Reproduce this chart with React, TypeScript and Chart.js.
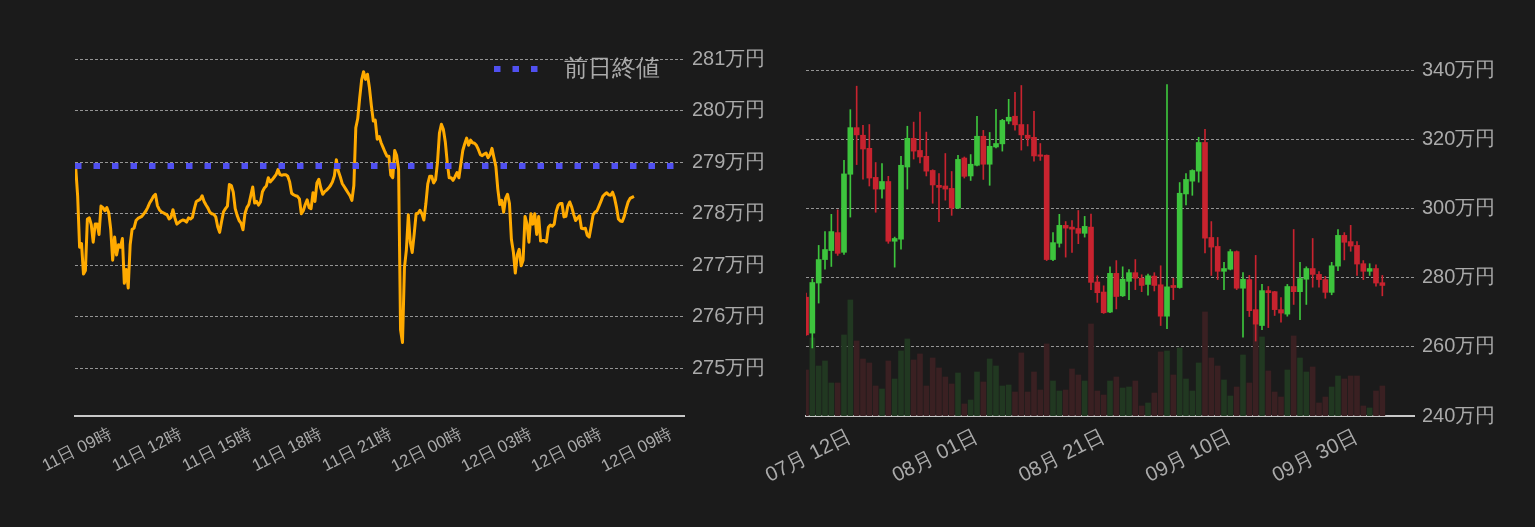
import React, { useEffect, useRef } from 'react';
import { Chart, registerables } from 'chart.js';

Chart.register(...registerables);

// ---------- shared styling ----------
const BG = '#1b1b1b';
const TICK_COLOR = '#aaaaaa';
const GRID_COLOR = 'rgba(190,190,190,0.75)';
const AXIS_COLOR = '#c8c8c8';
const LINE_COLOR = '#ffaa00';
const PREV_COLOR = '#5050f0';
const UP_COLOR = '#3dc43d';
const DOWN_COLOR = '#c8232f';
const UP_VOL = '#213821';
const DOWN_VOL = '#3a2022';

// ---------- left chart: intraday (hours relative to 11日 09:00) ----------
const intradayTickHours = [0, 3, 6, 9, 12, 15, 18, 21, 24];
const intradayTickLabels = ['11日 09時', '11日 12時', '11日 15時', '11日 18時', '11日 21時', '12日 00時', '12日 03時', '12日 06時', '12日 09時'];
const intradayAxisMin = -1.53;
const intradayAxisMax = 24.56;
const intradayStartHour = -1.5; // 11日 07:30
const intradayStepMinutes = 5;
const intradayPrices = [
  278.90, 278.35, 277.35, 277.42, 276.83, 276.90, 277.90, 277.92, 277.79, 277.45,
  277.80, 277.80, 277.60, 278.15, 278.12, 278.06, 278.12, 278.02, 277.70, 277.10,
  277.55, 277.20, 277.40, 277.35, 277.52, 276.65, 276.92, 276.56, 277.40, 277.70,
  277.72, 277.87, 277.91, 277.93, 277.95, 278.00, 278.05, 278.12, 278.21, 278.27,
  278.34, 278.38, 278.16, 278.08, 278.04, 278.02, 278.00, 277.98, 277.90, 277.93,
  278.08, 277.92, 277.80, 277.83, 277.86, 277.88, 277.87, 277.84, 277.92, 277.90,
  277.93, 278.10, 278.24, 278.26, 278.28, 278.35, 278.24, 278.17, 278.11, 278.03,
  278.00, 277.99, 277.94, 277.75, 277.64, 277.85, 278.04, 278.10, 278.15, 278.57,
  278.55, 278.42, 278.10, 277.97, 277.87, 277.82, 277.69, 278.00, 278.12, 278.18,
  278.35, 278.52, 278.21, 278.24, 278.17, 278.23, 278.43, 278.50, 278.54, 278.70,
  278.62, 278.66, 278.71, 278.76, 278.86, 278.76, 278.75, 278.76, 278.76, 278.73,
  278.62, 278.40, 278.37, 278.35, 278.34, 278.29, 278.00, 278.06, 278.18, 278.27,
  278.12, 278.10, 278.41, 278.24, 278.60, 278.67, 278.50, 278.38, 278.43, 278.46,
  278.50, 278.55, 278.62, 278.74, 279.05, 278.83, 278.72, 278.59, 278.53, 278.47,
  278.41, 278.35, 278.26, 278.55, 279.67, 279.85, 280.25, 280.60, 280.76, 280.61,
  280.71, 280.45, 280.10, 279.80, 279.82, 279.45, 279.50, 279.38, 279.29, 279.20,
  279.12, 279.12, 278.75, 278.70, 279.23, 279.13, 278.86, 275.75, 275.50, 276.95,
  277.30, 277.98, 277.45, 277.25, 277.60, 278.00, 278.01, 278.07, 278.00, 277.88,
  278.19, 278.58, 278.73, 278.73, 278.60, 278.66, 279.00, 279.57, 279.74, 279.64,
  279.40, 279.00, 278.70, 278.70, 278.65, 278.72, 278.80, 278.70, 278.97, 279.23,
  279.36, 279.47, 279.33, 279.43, 279.38, 279.37, 279.33, 279.25, 279.15, 279.13,
  279.16, 279.18, 279.09, 279.15, 279.27, 279.09, 278.92, 278.48, 278.18, 278.26,
  278.03, 278.30, 278.38, 278.20, 277.50, 277.26, 276.85, 277.20, 277.31, 276.99,
  277.10, 277.95, 277.80, 277.45, 278.00, 277.80, 278.00, 277.60, 277.95, 277.47,
  277.48, 277.48, 277.45, 277.74, 277.78, 277.76, 277.80, 278.04, 278.16, 278.20,
  278.20, 277.94, 277.95, 278.15, 278.23, 278.13, 277.99, 277.87, 277.92, 277.96,
  277.72, 277.71, 277.72, 277.58, 277.55, 277.76, 277.98, 278.03, 278.06, 278.15,
  278.24, 278.34, 278.38, 278.41, 278.37, 278.36, 278.42, 278.31, 278.13, 277.90,
  277.86, 277.85, 277.95, 278.10, 278.23, 278.30, 278.32, 278.34,
];
const previousClose = 278.93;
const previousCloseLabel = '前日終値';
const intradayYMin = 274.074;
const intradayYMax = 281.511;

// ---------- right chart: daily candles (index 0 = 07月 05日) ----------
const dailyTickIndex = [7, 27, 47, 67, 87];
const dailyTickLabels = ['07月 12日', '08月 01日', '08月 21日', '09月 10日', '09月 30日'];
const dailyAxisMax = 96;
const dailyOpen = [
  274.4, 264.0, 278.5, 285.3, 287.9, 293.1, 287.4, 310.0, 323.5, 321.3,
  317.5, 309.1, 305.7, 307.9, 290.6, 291.2, 312.1, 320.4, 316.9, 315.2,
  311.1, 306.8, 306.6, 305.9, 300.2, 314.7, 309.5, 312.6, 321.0, 312.9,
  317.9, 318.8, 325.4, 326.8, 324.4, 321.3, 320.7, 315.5, 315.5, 285.3,
  290.0, 295.2, 294.7, 294.3, 292.9, 294.7, 278.8, 275.9, 270.1, 281.3,
  274.8, 279.0, 281.5, 279.9, 278.1, 280.5, 278.0, 268.9, 277.8, 277.2,
  304.3, 308.0, 310.9, 319.2, 291.7, 289.1, 281.9, 282.5, 287.6, 277.0,
  279.5, 270.8, 266.2, 276.3, 276.0, 270.8, 269.5, 277.5, 276.0, 279.6,
  282.7, 281.0, 279.5, 275.8, 283.4, 292.3, 290.5, 289.4, 284.1, 281.9,
  282.7, 278.6,
];
const dailyHigh = [
  275.6, 279.7, 289.4, 293.4, 298.4, 299.7, 314.0, 328.7, 335.5, 324.2,
  324.4, 313.4, 313.1, 309.4, 291.8, 315.2, 323.9, 325.1, 328.0, 322.2,
  311.3, 310.2, 316.0, 310.8, 315.5, 315.0, 315.7, 326.8, 322.7, 322.1,
  328.8, 325.9, 331.7, 333.7, 335.7, 324.4, 328.2, 318.9, 315.6, 293.1,
  298.4, 296.3, 296.6, 299.5, 297.8, 298.5, 280.6, 277.7, 283.2, 285.0,
  283.2, 282.4, 285.3, 280.9, 281.1, 281.5, 283.5, 336.0, 279.9, 307.6,
  310.2, 311.3, 320.7, 323.0, 296.3, 291.7, 284.5, 288.2, 287.8, 281.5,
  280.7, 286.5, 278.1, 277.5, 276.1, 274.3, 278.1, 294.0, 284.5, 283.2,
  291.4, 281.8, 280.4, 284.5, 294.0, 293.1, 295.2, 290.5, 285.0, 284.1,
  283.8, 280.7,
];
const dailyLow = [
  263.3, 259.7, 272.7, 282.5, 283.3, 286.5, 286.8, 297.6, 312.8, 308.6,
  306.6, 299.0, 303.1, 290.0, 283.1, 288.3, 305.7, 314.4, 313.3, 309.5,
  301.6, 296.3, 302.5, 298.1, 300.0, 308.9, 308.2, 312.4, 308.5, 306.8,
  317.6, 316.7, 324.6, 322.8, 317.0, 318.2, 313.8, 314.0, 285.0, 285.0,
  288.9, 286.0, 287.4, 289.9, 291.8, 276.6, 272.9, 269.7, 269.9, 271.0,
  274.6, 273.7, 276.6, 276.0, 275.0, 276.2, 266.2, 265.3, 273.7, 277.0,
  301.1, 303.9, 307.7, 287.2, 280.7, 279.5, 276.6, 282.3, 276.6, 262.8,
  268.8, 261.7, 265.0, 265.6, 269.1, 267.2, 268.9, 272.3, 267.9, 272.3,
  277.3, 277.3, 274.1, 275.1, 282.1, 285.2, 287.7, 280.7, 279.5, 280.7,
  277.6, 274.8,
];
const dailyClose = [
  263.5, 278.65, 285.3, 288.2, 293.4, 287.1, 310.1, 323.5, 321.4, 317.3,
  308.9, 305.7, 307.9, 290.6, 291.4, 312.6, 320.4, 316.7, 315.0, 310.9,
  306.9, 306.2, 305.7, 300.2, 314.3, 309.4, 312.9, 321.0, 312.9, 318.1,
  318.9, 325.6, 326.5, 324.3, 321.4, 320.4, 315.3, 315.2, 285.3, 290.2,
  295.2, 294.4, 294.1, 292.9, 294.9, 278.7, 275.7, 269.9, 281.3, 274.6,
  279.6, 281.5, 279.9, 277.8, 280.6, 277.8, 268.9, 277.4, 277.2, 304.5,
  308.5, 311.1, 319.2, 291.5, 288.9, 281.9, 282.7, 287.6, 277.0, 279.6,
  270.5, 266.6, 276.3, 275.7, 270.8, 269.8, 277.5, 276.0, 279.8, 282.7,
  281.0, 279.5, 275.8, 283.5, 292.3, 290.3, 289.2, 284.0, 281.9, 282.7,
  278.5, 277.8,
];
const dailyVolume = [
  46, 78, 50, 55, 33, 33, 81, 116, 75, 57,
  53, 30, 27, 55, 37, 65, 77, 56, 62, 30,
  58, 48, 39, 32, 43, 12, 16, 44, 34, 57,
  50, 30, 31, 24, 63, 24, 44, 26, 72, 35,
  25, 26, 47, 41, 35, 92, 25, 21, 35, 39,
  28, 29, 35, 10, 13, 23, 64, 65, 41, 68,
  37, 25, 53, 104, 58, 50, 36, 20, 29, 61,
  33, 92, 79, 45, 24, 19, 46, 80, 58, 44,
  49, 13, 19, 29, 40, 37, 40, 40, 10, 8,
  25, 30,
];
const dailyYMin = 240;
const dailyYMax = 350.9;

const yenLabel = (v: number | string) => `${v}万円`;

// legend for the previous-close line, drawn inside the chart area at the top right
const prevCloseLegend = {
  id: 'prevCloseLegend',
  afterDraw(chart: any) {
    const { ctx, chartArea } = chart;
    const fontSize = 24;
    const padding = 24;
    ctx.save();
    ctx.font = `${fontSize}px ${Chart.defaults.font.family}`;
    const textWidth = ctx.measureText(previousCloseLabel).width;
    const cy = chartArea.top + padding + fontSize / 2;
    const textX = chartArea.right - padding - textWidth;
    const sampleEnd = textX - 26;
    const sampleStart = sampleEnd - 44;
    ctx.strokeStyle = PREV_COLOR;
    ctx.lineWidth = 6;
    ctx.lineCap = 'butt';
    ctx.setLineDash([6.5, 12]);
    ctx.beginPath();
    ctx.moveTo(sampleStart, cy);
    ctx.lineTo(sampleEnd, cy);
    ctx.stroke();
    ctx.setLineDash([]);
    ctx.fillStyle = TICK_COLOR;
    ctx.textBaseline = 'middle';
    ctx.textAlign = 'left';
    ctx.fillText(previousCloseLabel, textX, cy);
    ctx.restore();
  },
};

export default function App() {
  const leftRef = useRef<HTMLCanvasElement>(null);
  const rightRef = useRef<HTMLCanvasElement>(null);

  useEffect(() => {
    document.body.style.background = BG;

    const left = new Chart(leftRef.current as HTMLCanvasElement, {
      type: 'line',
      data: {
        datasets: [
          {
            label: previousCloseLabel,
            data: [
              { x: intradayAxisMin, y: previousClose },
              { x: intradayAxisMax, y: previousClose },
            ],
            borderColor: PREV_COLOR,
            backgroundColor: PREV_COLOR,
            borderWidth: 6,
            borderDash: [6.5, 12],
            borderCapStyle: 'butt',
            pointRadius: 0,
            fill: false,
          },
          {
            label: '価格',
            data: intradayPrices.map((p, i) => ({ x: intradayStartHour + (i * intradayStepMinutes) / 60, y: p })),
            borderColor: LINE_COLOR,
            backgroundColor: LINE_COLOR,
            borderWidth: 3,
            borderJoinStyle: 'round',
            pointRadius: 0,
            tension: 0,
            fill: false,
          },
        ],
      },
      options: {
        animation: false,
        responsive: false,
        events: [],
        layout: { padding: { left: 67, top: 25, right: 0, bottom: 0 } },
        plugins: {
          tooltip: { enabled: false },
          legend: { display: false },
        },
        scales: {
          x: {
            type: 'linear',
            min: intradayAxisMin,
            max: intradayAxisMax,
            afterBuildTicks: (s: any) => {
              s.ticks = intradayTickHours.map((v) => ({ value: v }));
            },
            afterFit: (s: any) => {
              s.height = 92;
            },
            grid: { display: false, drawTicks: false },
            border: { display: true, color: AXIS_COLOR, width: 2 },
            ticks: {
              autoSkip: false,
              minRotation: 27,
              maxRotation: 27,
              padding: 8,
              color: TICK_COLOR,
              font: { size: 17 },
              callback: (_v: any, i: number) => intradayTickLabels[i],
            },
          },
          y: {
            position: 'right',
            min: intradayYMin,
            max: intradayYMax,
            afterFit: (s: any) => {
              s.width = 94;
            },
            grid: { color: GRID_COLOR, lineWidth: 1, drawTicks: false },
            border: { display: false, dash: [3, 2] },
            ticks: {
              stepSize: 1,
              includeBounds: false,
              padding: 8,
              color: TICK_COLOR,
              font: { size: 20 },
              callback: (v: any) => yenLabel(v),
            },
          },
        },
      },
      plugins: [prevCloseLegend],
    } as any);

    const candleColor = dailyOpen.map((o, i) => (dailyClose[i] >= o ? UP_COLOR : DOWN_COLOR));
    const volumeColor = dailyOpen.map((o, i) => (dailyClose[i] >= o ? UP_VOL : DOWN_VOL));

    const right = new Chart(rightRef.current as HTMLCanvasElement, {
      type: 'bar',
      data: {
        datasets: [
          {
            label: '実体',
            data: dailyOpen.map((o, i) => ({ x: i, y: [o, dailyClose[i]] })),
            backgroundColor: candleColor,
            barThickness: 5,
            minBarLength: 1.5,
            grouped: false,
            order: 0,
            yAxisID: 'y',
          },
          {
            label: 'ヒゲ',
            data: dailyLow.map((l, i) => ({ x: i, y: [l, dailyHigh[i]] })),
            backgroundColor: candleColor,
            barThickness: 1,
            grouped: false,
            order: 1,
            yAxisID: 'y',
          },
          {
            label: '出来高',
            data: dailyVolume.map((v, i) => ({ x: i, y: v })),
            backgroundColor: volumeColor,
            barThickness: 5,
            grouped: false,
            order: 2,
            yAxisID: 'yVol',
          },
        ],
      },
      options: {
        animation: false,
        responsive: false,
        events: [],
        layout: { padding: { left: 66, top: 25, right: 0, bottom: 0 } },
        plugins: { legend: { display: false }, tooltip: { enabled: false } },
        scales: {
          x: {
            type: 'linear',
            offset: false,
            min: 0,
            max: dailyAxisMax,
            afterBuildTicks: (s: any) => {
              s.ticks = dailyTickIndex.map((v) => ({ value: v }));
            },
            afterFit: (s: any) => {
              s.height = 92;
            },
            grid: { display: false, drawTicks: false, offset: false },
            border: { display: true, color: AXIS_COLOR, width: 2 },
            ticks: {
              autoSkip: false,
              minRotation: 27,
              maxRotation: 27,
              padding: 8,
              color: TICK_COLOR,
              font: { size: 20.5 },
              callback: (_v: any, i: number) => dailyTickLabels[i],
            },
          },
          y: {
            position: 'right',
            min: dailyYMin,
            max: dailyYMax,
            afterFit: (s: any) => {
              s.width = 113;
            },
            grid: {
              color: (ctx: any) => (ctx.tick && ctx.tick.value === dailyYMin ? 'rgba(0,0,0,0)' : GRID_COLOR),
              lineWidth: 1,
              drawTicks: false,
            },
            border: { display: false, dash: [3, 2] },
            ticks: {
              stepSize: 20,
              includeBounds: false,
              padding: 8,
              color: TICK_COLOR,
              font: { size: 20 },
              callback: (v: any) => yenLabel(v),
            },
          },
          yVol: {
            display: false,
            min: 0,
            max: Math.max(...dailyVolume) * 3.3,
          },
        },
      },
    } as any);

    return () => {
      left.destroy();
      right.destroy();
    };
  }, []);

  return (
    <div style={{ position: 'relative', width: 1519, height: 500 }}>
      <canvas ref={leftRef} width={770} height={500} style={{ position: 'absolute', left: 0, top: 0 }} />
      <canvas ref={rightRef} width={787} height={500} style={{ position: 'absolute', left: 732, top: 0 }} />
    </div>
  );
}
